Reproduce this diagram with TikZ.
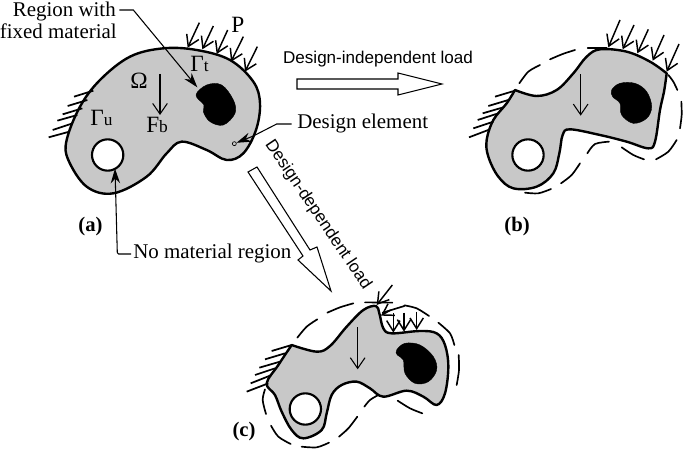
\documentclass[tikz,border=0pt]{standalone}
\usepackage{fontspec}
\setmainfont{Liberation Serif}
\newfontfamily\arialfont{Liberation Sans}
\usetikzlibrary{arrows.meta}
\definecolor{bodygray}{HTML}{C8C8C8}
\tikzset{
  body/.style={fill=bodygray,draw=black,line width=1.8pt,line join=round},
  voidhole/.style={fill=white,draw=black,line width=1.6pt},
  solidblob/.style={fill=black,draw=black,line width=.3pt},
  hatch/.style={draw=black,line width=1.3pt},
  load/.style={draw=black,line width=1.1pt,-{Straight Barb[length=8pt,width=10pt]}},
  grav/.style={draw=black,line width=.8pt,-{Straight Barb[length=8pt,width=11pt]}},
  dashcurve/.style={draw=black,line width=1.25pt,line cap=round},
  blockarrow/.style={draw=black,fill=white,line width=.8pt,line join=miter},
  leader/.style={draw=black,line width=.8pt},
  leaderarrow/.style={leader,-{Stealth[length=11pt,width=7pt]}},
  serif/.style={inner sep=0pt,font=\fontsize{15.7}{17}\selectfont},
  sanslabel/.style={inner sep=0pt,font=\arialfont\fontsize{12.8}{15}\selectfont},
  caption/.style={inner sep=0pt,font=\bfseries\fontsize{15.5}{17}\selectfont},
  sym/.style={inner sep=0pt,anchor=base west,font=\fontsize{17.5}{19}\selectfont},
  zoomed/.style={x=.25pt,y=-.25pt},
}
\newcommand{\smalll}[1]{{\fontsize{13}{15}\selectfont #1}}
\begin{document}
\begin{tikzpicture}[x=.75pt,y=-.75pt]
\path[use as bounding box] (0,0) rectangle (685,452);

% ---------- (a) ----------
\begin{scope}[zoomed]
\path[body] plot[smooth cycle,tension=.6] coordinates {(490,145)(590,150)(690,180)(760,245)(780,310)(768,390)(730,460)(680,480)(620,450)(545,425)(500,460)(440,530)(340,580)(260,560)(205,480)(200,420)(240,320)(300,240)(390,170)};
\path[solidblob] plot[smooth cycle,tension=.6] coordinates {(588,285)(620,255)(665,255)(700,300)(705,340)(670,375)(630,365)(610,335)(612,315)};
\path[voidhole] (323,465) circle (47);
\foreach \xa/\ya/\xb/\yb in {280/272/222/290,262/300/203/318,247/325/188/343,232/345/172/362,218/370/158/390,208/395/146/412}
  \draw[hatch] (\xa,\ya) -- (\xb,\yb);
\foreach \xa/\ya/\xb/\yb in {598/68/563/143,640/78/607/148,683/90/650/162,730/110/693/185,772/140/735/215}
  \draw[load] (\xa,\ya) -- (\xb,\yb);
\draw[grav] (480,222) -- (480,345);
\coordinate (rwA) at (358,30);
\coordinate (rwB) at (400,30);
\coordinate (rwT) at (592,262);
\coordinate (deA) at (875,372);
\coordinate (deB) at (830,372);
\coordinate (deC) at (760,408);
\node[circle,draw=black,fill=bodygray,line width=.5pt,inner sep=0pt,minimum size=3pt] (dot) at (703,431) {};
\coordinate (nmA) at (393,762);
\coordinate (nmB) at (352,762);
\coordinate (nmT) at (345,506);
\end{scope}
\draw[leaderarrow] (rwA) -- (rwB) -- (rwT);
\draw[leader] (deA) -- (deB) -- (deC);
\draw[leaderarrow] (deC) -- (dot);
\draw[leaderarrow,rounded corners=1pt] (nmA) -- (nmB) -- (nmT);

\node[serif,anchor=base east] (t1) at (116,17) {Region with};
\node[serif,anchor=base east] (t2) at (117,39) {fixed material};
\node[sym] (tP) at (231,33) {P};
\node[sym] (tO) at (130,89) {Ω};
\node[sym] (tGt) at (190,72) {Γ\smalll{t}};
\node[sym] (tGu) at (90,126) {Γ\smalll{u}};
\node[sym] (tF) at (146,133) {F\smalll{b}};
\node[serif,anchor=base west] (t3) at (297,129) {Design element};
\node[serif,anchor=base west] (t4) at (133,258) {No material region};
\node[caption] (ca) at (90.5,227) {(a)};
\node[caption] (cb) at (517,227) {(b)};
\node[caption] (cc) at (244,432) {(c)};

% ---------- block arrows ----------
\draw[blockarrow] (297,79) -- (398,79) -- (398,73) -- (442,84) -- (398,95) -- (398,89) -- (297,89) -- cycle;
\draw[blockarrow] (248,172) -- (257,167) -- (310,250) -- (317,247) -- (331,291) -- (298,260) -- (303,256) -- cycle;
\node[sanslabel] (li) at (378,59) {Design-independent load};
\node[sanslabel,rotate=-56] (ld) at (318,215) {Design-dependent load};

% ---------- (b) ----------
\begin{scope}[shift={(440,20)},zoomed]
\path[body] plot[smooth,tension=.6] coordinates {(225,210)(290,228)(350,210)(400,160)(440,110)(480,88)(560,95)(630,125)(680,160)} -- plot[smooth,tension=.6] coordinates {(680,160)(672,215)(660,270)(645,365)(625,385)(560,365)(480,345)(390,328)(368,345)(358,400)(340,460)(290,500)(220,505)(175,470)(145,410)(140,360)(160,300)(200,250)(225,210)} -- cycle;
\path[solidblob] plot[smooth cycle,tension=.6] coordinates {(515,210)(540,190)(585,190)(620,215)(635,260)(620,295)(580,310)(545,285)(540,250)(518,230)};
\path[voidhole] (264,405) circle (47);
\foreach \xa/\ya/\xb/\yb in {225/212/165/230,205/240/145/258,190/262/128/280,175/280/113/300,160/305/100/325,150/328/87/352}
  \draw[hatch] (\xa,\ya) -- (\xb,\yb);
\foreach \xa/\ya/\xb/\yb in {540/0/505/82,582/15/548/88,625/28/592/100,672/45/638/122,717/72/680/155}
  \draw[load] (\xa,\ya) -- (\xb,\yb);
\draw[grav] (422,163) -- (422,287);
\draw[dashcurve] plot[smooth] coordinates {(238,190)(265,155)(300,135)};
\draw[dashcurve] plot[smooth] coordinates {(330,118)(368,102)(405,90)};
\draw[dashcurve] (443,85) -- (500,85);
\draw[dashcurve] plot[smooth] coordinates {(685,165)(700,185)(712,210)};
\draw[dashcurve] plot[smooth] coordinates {(724,245)(725,285)(720,325)};
\draw[dashcurve] plot[smooth] coordinates {(648,418)(685,395)(710,360)};
\draw[dashcurve] plot[smooth] coordinates {(545,382)(580,405)(612,418)};
\draw[dashcurve] plot[smooth] coordinates {(442,400)(465,372)(507,365)};
\draw[dashcurve] plot[smooth] coordinates {(363,490)(395,465)(420,430)};
\draw[dashcurve] plot[smooth] coordinates {(255,518)(295,520)(333,507)};
\end{scope}

% ---------- (c) ----------
\begin{scope}[shift={(220,270)},zoomed]
\path[body] plot[smooth,tension=.6] coordinates {(215,225)(290,245)(330,228)(380,170)(430,120)(468,108)(478,130)(490,175)(515,190)(600,183)(650,190)(675,225)(685,290)(675,370)(650,405)(610,380)(560,362)(490,380)(450,355)(410,335)(365,345)(335,375)(320,430)(305,480)(250,505)(215,480)(185,425)(165,375)(140,340)(175,285)(215,225)} -- cycle;
\path[solidblob] plot[smooth cycle,tension=.6] coordinates {(530,240)(555,220)(600,225)(640,260)(650,300)(625,335)(585,340)(555,310)(550,270)(532,255)};
\path[voidhole] (256,417) circle (47);
\foreach \xa/\ya/\xb/\yb in {215/225/155/243,195/250/135/268,180/275/118/293,165/295/105/315,155/315/92/340,145/340/80/365}
  \draw[hatch] (\xa,\ya) -- (\xb,\yb);
\foreach \xa/\ya/\xb/\yb in {517/45/470/105,512/120/483/137,520/130/520/188,552/128/552/185,590/125/590/180}
  \draw[load] (\xa,\ya) -- (\xb,\yb);
\draw[grav] (413,172) -- (413,298);
\draw[dashcurve] plot[smooth] coordinates {(232,203)(260,170)(292,148)};
\draw[dashcurve] plot[smooth] coordinates {(322,128)(360,112)(400,100)};
\draw[dashcurve] (435,97) -- (517,98);
\draw[dashcurve] (488,128) -- (553,108);
\draw[dashcurve] plot[smooth] coordinates {(553,106)(590,115)(627,138)};
\draw[dashcurve] plot[smooth] coordinates {(655,158)(690,190)(703,225)};
\draw[dashcurve] plot[smooth] coordinates {(716,255)(717,300)(710,345)};
\draw[dashcurve] plot[smooth] coordinates {(533,392)(570,415)(607,430)};
\draw[dashcurve] plot[smooth] coordinates {(433,410)(450,390)(475,375)};
\draw[dashcurve] plot[smooth] coordinates {(357,500)(385,475)(412,440)};
\draw[dashcurve] plot[smooth] coordinates {(245,530)(290,532)(327,518)};
\draw[dashcurve] plot[smooth] coordinates {(153,467)(175,500)(212,522)};
\draw[dashcurve] plot[smooth] coordinates {(135,358)(128,390)(138,432)};
\end{scope}
\end{tikzpicture}
\end{document}
